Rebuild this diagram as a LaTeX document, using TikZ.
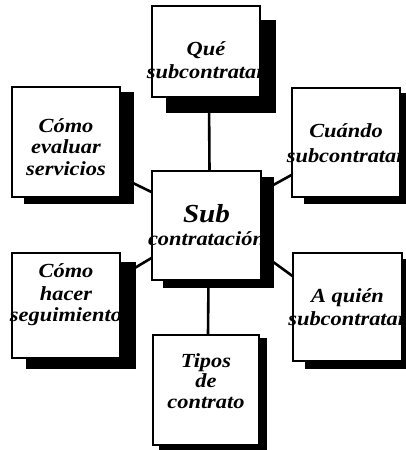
\documentclass[tikz,border=0pt]{standalone}
\usepackage{fontspec}
\setmainfont{Liberation Serif}[FakeStretch=1.12]
\usetikzlibrary{backgrounds}
\tikzset{
  box/.style={draw=black, line width=1.1pt, fill=white, minimum width=108pt,
    minimum height=108pt, inner sep=0pt, align=center,
    font=\fontsize{20}{22}\selectfont\bfseries\itshape},
  link/.style={line width=2.6pt, line cap=butt},
  shade/.style={fill=black}
}
\newcommand{\wide}[1]{\makebox[0pt]{#1}}
\newcommand{\boxtext}[2]{\raisebox{#1pt}[0pt][0pt]{\begin{tabular}[t]{@{}c@{}}#2\end{tabular}}}
\newcommand{\boxshadow}[3]{%
  \fill[shade] ([shift={(#2,#3)}]#1.south west) rectangle ([shift={(#2,#3)}]#1.north east);}
\begin{document}
\begin{tikzpicture}[x=1pt,y=-1pt]
\useasboundingbox (0,0) rectangle (406,450);
\node[box, minimum height=91pt] (que) at (206,51.5)
  {\boxtext{-3.5}{Qué\\[1pt]\wide{subcontratar}}};
\node[box, minimum height=110pt] (eval) at (66,142)
  {\boxtext{10}{Cómo\\[-0.5pt]evaluar\\[-0.5pt]servicios}};
\node[box, minimum height=109pt] (cuando) at (346,142.5)
  {\boxtext{5.5}{Cuándo\\[3pt]\wide{subcontratar}}};
\node[box, minimum width=109pt, minimum height=109pt] (sub) at (206.5,225.5)
  {\boxtext{3.5}{{\fontsize{26}{28}\selectfont Sub}\\[1pt]\wide{contratación}}};
\node[box, minimum height=105pt] (hacer) at (66,305.5)
  {\boxtext{28.5}{Cómo\\[1pt]hacer\\[-1pt]\wide{seguimiento}}};
\node[box, minimum width=109pt] (quien) at (347.5,307)
  {\boxtext{5}{A quién\\[1pt]\wide{subcontratar}}};
\node[box, minimum width=106pt, minimum height=110pt] (tipos) at (206,390)
  {\boxtext{23}{Tipos\\[-2pt]de\\[-1pt]contrato}};
\begin{scope}[on background layer]
  \boxshadow{que}{15}{15}
  \boxshadow{eval}{13}{6}
  \boxshadow{cuando}{13}{6}
  \boxshadow{sub}{12}{7}
  \boxshadow{hacer}{15}{10}
  \boxshadow{quien}{13}{7}
  \boxshadow{tipos}{7}{4}
  \draw[link] ([shift={(3,0)}]que.south) -- ([shift={(3,0)}]sub.north);
  \draw[link] ([shift={(0,35)}]eval.east) -- ([shift={(0,-33.5)}]sub.west);
  \draw[link] ([shift={(0,-34)}]sub.east) -- ([shift={(0,32.5)}]cuando.west);
  \draw[link] ([shift={(0,-29)}]hacer.east) -- ([shift={(0,32.5)}]sub.west);
  \draw[link] ([shift={(0,28)}]sub.east) -- ([shift={(0,-31)}]quien.west);
  \draw[link] ([shift={(2,0)}]sub.south) -- ([shift={(2,0)}]tipos.north);
\end{scope}
\end{tikzpicture}
\end{document}
